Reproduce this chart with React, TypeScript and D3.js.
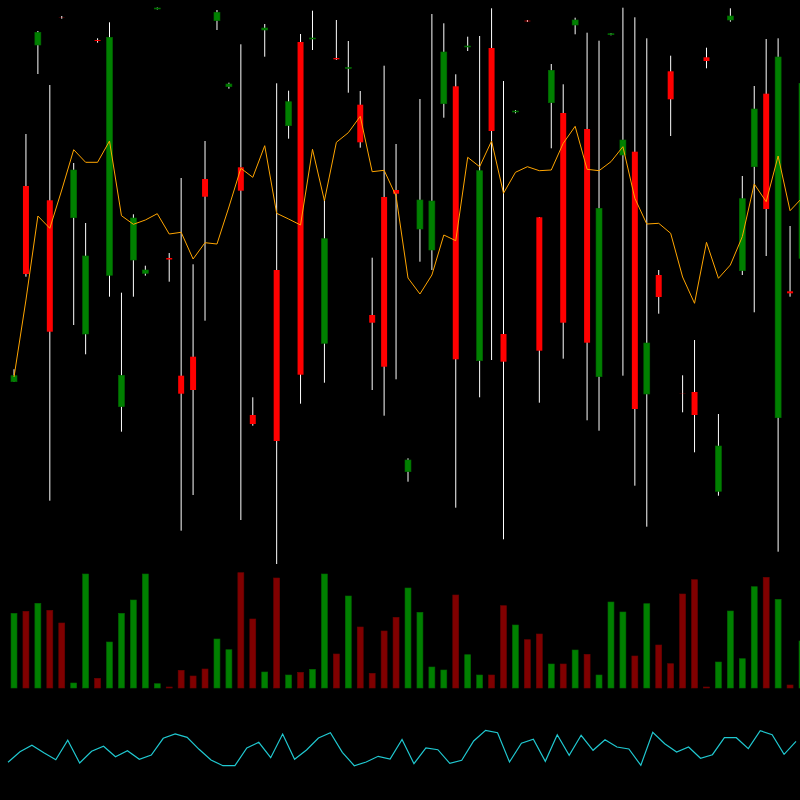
import React from "react";
import * as d3 from "d3";

// Candle data (arbitrary price units)
const opens = [218.3, 414, 555, 399.7, 582.6, 382.3, 266, 560, 324.7, 193.3, 340, 326.7, 591, 342, 224.3, 243.3, 421, 579.3, 513.3, 432.7, 185, 570, 330, 474.3, 558, 561, 256.7, 542, 531.5, 495.3, 285, 403, 410, 128.3, 371, 350, 496.3, 513.7, 553, 239.3, 552, 266, 488, 579.3, 382.7, 497.3, 487, 575, 471, 223.3, 565.3, 445, 448.3, 206, 325, 528.7, 206.5, 208, 542.7, 108.7, 580, 329.3, 433.3, 506.3, 182.3, 308.7, 341.7];
const highs = [230.7, 466, 569, 515, 584, 437, 377, 561.7, 577.7, 307.3, 385.7, 334.3, 592.5, 347, 422, 335.7, 459, 590, 517.3, 555.7, 202.7, 576, 516.7, 509.3, 566, 589.3, 401, 580, 559, 509, 342.3, 534.3, 456, 141.7, 501, 586, 576.7, 525.7, 563.3, 564, 591.7, 519, 490, 580, 383, 536, 515.7, 582.3, 567.3, 559.3, 567, 592.3, 582.7, 561.7, 330, 544.3, 224.7, 260, 552.3, 186, 591.7, 424, 514, 561, 561.7, 374, 520];
const lows = [218, 323.3, 526, 99.3, 581.3, 275, 245.7, 557.3, 303.3, 168.3, 303.3, 324.3, 590.5, 318.3, 69.3, 105, 279.3, 570, 511.3, 80, 174.3, 543.3, 36, 461.3, 196.3, 550, 217.3, 540, 507.3, 452.3, 210, 184.3, 220.7, 118.3, 338.3, 330, 482.3, 92.3, 549, 202.7, 240, 60.7, 486.7, 578, 197.3, 451.7, 241.3, 565.7, 179.7, 169.3, 564.7, 224.3, 114.3, 73.3, 286.3, 464, 187.7, 147.7, 531.7, 104.3, 578.3, 325, 287.7, 344, 48.3, 303.3, 330];
const closes = [224.3, 326, 567.7, 268.3, 582.4, 430, 344, 559, 562.7, 224.7, 382, 330, 592, 340.5, 206.3, 210, 403.3, 587.7, 516, 409.3, 176, 572, 159, 498.3, 225.3, 562, 361.3, 540.7, 532.5, 457.7, 277.3, 233.3, 406.3, 140, 400, 399, 548, 240.7, 554, 429.3, 469, 238.3, 489, 578.7, 249.3, 529.7, 277.3, 580, 257.3, 391.7, 566.3, 460, 191, 257, 303, 500.7, 206.3, 185, 539, 154, 584, 401.3, 491, 391, 543, 306.7, 516.7];

// Moving average line (orange)
const average = [223, 300, 384, 371.7, 410, 450.3, 437.7, 437.7, 459, 384.3, 375.7, 380, 386.3, 366, 367.7, 341, 357.3, 356, 393, 431.7, 422.7, 454.3, 386.7, 381, 375, 450.7, 399.3, 457.7, 467.3, 483.7, 428.3, 429.7, 404, 322, 306, 325, 365, 359.3, 442.7, 433.3, 459, 406.7, 427.7, 433.3, 429.3, 430, 456.7, 473.7, 430.7, 429.3, 438.3, 453.3, 401.7, 376, 376.7, 366.7, 323, 296.7, 357.7, 321.7, 335, 363.3, 416, 398.3, 444, 389.3, 402];

// Volume
const volumes = [74.7, 76.7, 84.7, 77.7, 65, 5, 114, 9.7, 46, 74.7, 88, 114, 4.3, 1, 17.7, 12, 19, 49, 38.3, 115.3, 69, 16, 110, 13, 15.7, 18.7, 114, 34, 92, 61, 14.7, 57, 70.7, 100, 75.7, 21, 18, 93, 33.3, 13, 13, 82.3, 63, 48.3, 54, 24, 24, 38, 33.7, 13, 86, 76, 32, 84.3, 43, 24.3, 94, 108.3, 1, 26, 77, 29.3, 101.3, 110.7, 88.7, 3, 47];

// Oscillator (cyan)
const oscillator = [37.7, 48.3, 54.7, 47.3, 40.3, 59.7, 37, 48.7, 53.7, 43.3, 49.3, 40.7, 45, 61.7, 66, 62.7, 50.7, 40, 34.3, 34.3, 52, 57.7, 42.3, 66, 40.7, 50, 62, 67.3, 47.7, 34.3, 38, 43.7, 41, 60.5, 36.3, 52, 50.3, 36.7, 39.7, 59, 69.7, 67.3, 38, 56.7, 60.7, 38.7, 65.3, 44.7, 64.7, 49.7, 60.3, 53, 51, 34.7, 67.7, 56.3, 48, 53, 41.7, 45.3, 62.3, 62.3, 51.3, 69.3, 65.3, 45.7, 58.7];

const W = 800;
const H = 800;

export default function App() {
  const n = closes.length;
  const x = d3.scaleLinear().domain([0, n - 1]).range([14, 802]);
  const step = x(1) - x(0);
  const bw = step * 0.5;
  const yP = d3.scaleLinear().domain([0, 600]).range([600, 0]);
  const yV = d3.scaleLinear().domain([0, 120]).range([688, 568]);
  const yO = d3.scaleLinear().domain([0, 100]).range([800, 700]);

  const maLine = d3
    .line<number>()
    .x((_, i) => x(i))
    .y((d) => yP(d));
  const oscLine = d3
    .line<number>()
    .x((_, i) => x(i) - step / 2)
    .y((d) => yO(d));

  const idx = d3.range(n);

  return (
    <svg
      width={W}
      height={H}
      style={{ position: "fixed", left: 0, top: 0, background: "#000", display: "block" }}
    >
      <rect x={0} y={0} width={W} height={H} fill="#000" />
      {/* wicks */}
      {idx.map((i) => (
        <line
          key={"w" + i}
          x1={x(i)}
          x2={x(i)}
          y1={yP(highs[i])}
          y2={yP(lows[i])}
          stroke="#ffffff"
          strokeWidth={1}
        />
      ))}
      {/* bodies */}
      {idx.map((i) => {
        const up = closes[i] >= opens[i];
        const top = yP(Math.max(opens[i], closes[i]));
        const bot = yP(Math.min(opens[i], closes[i]));
        return (
          <rect
            key={"b" + i}
            x={x(i) - bw / 2}
            y={top}
            width={bw}
            height={Math.max(bot - top, 0)}
            fill={up ? "#008000" : "#ff0000"}
            stroke={up ? "#006a00" : "none"}
            strokeWidth={up ? 0.6 : 0}
          />
        );
      })}
      {/* moving average */}
      <path d={maLine(average) || ""} fill="none" stroke="#ffa500" strokeWidth={1} />
      {/* volume */}
      {idx.map((i) => {
        const up = closes[i] >= opens[i];
        return (
          <rect
            key={"v" + i}
            x={x(i) - bw / 2}
            y={yV(volumes[i])}
            width={bw}
            height={yV(0) - yV(volumes[i])}
            fill={up ? "#008000" : "#800000"}
            stroke={up ? "#006400" : "#6a0000"}
            strokeWidth={0.6}
          />
        );
      })}
      {/* oscillator */}
      <path d={oscLine(oscillator) || ""} fill="none" stroke="#20c8d0" strokeWidth={1.2} />
    </svg>
  );
}
